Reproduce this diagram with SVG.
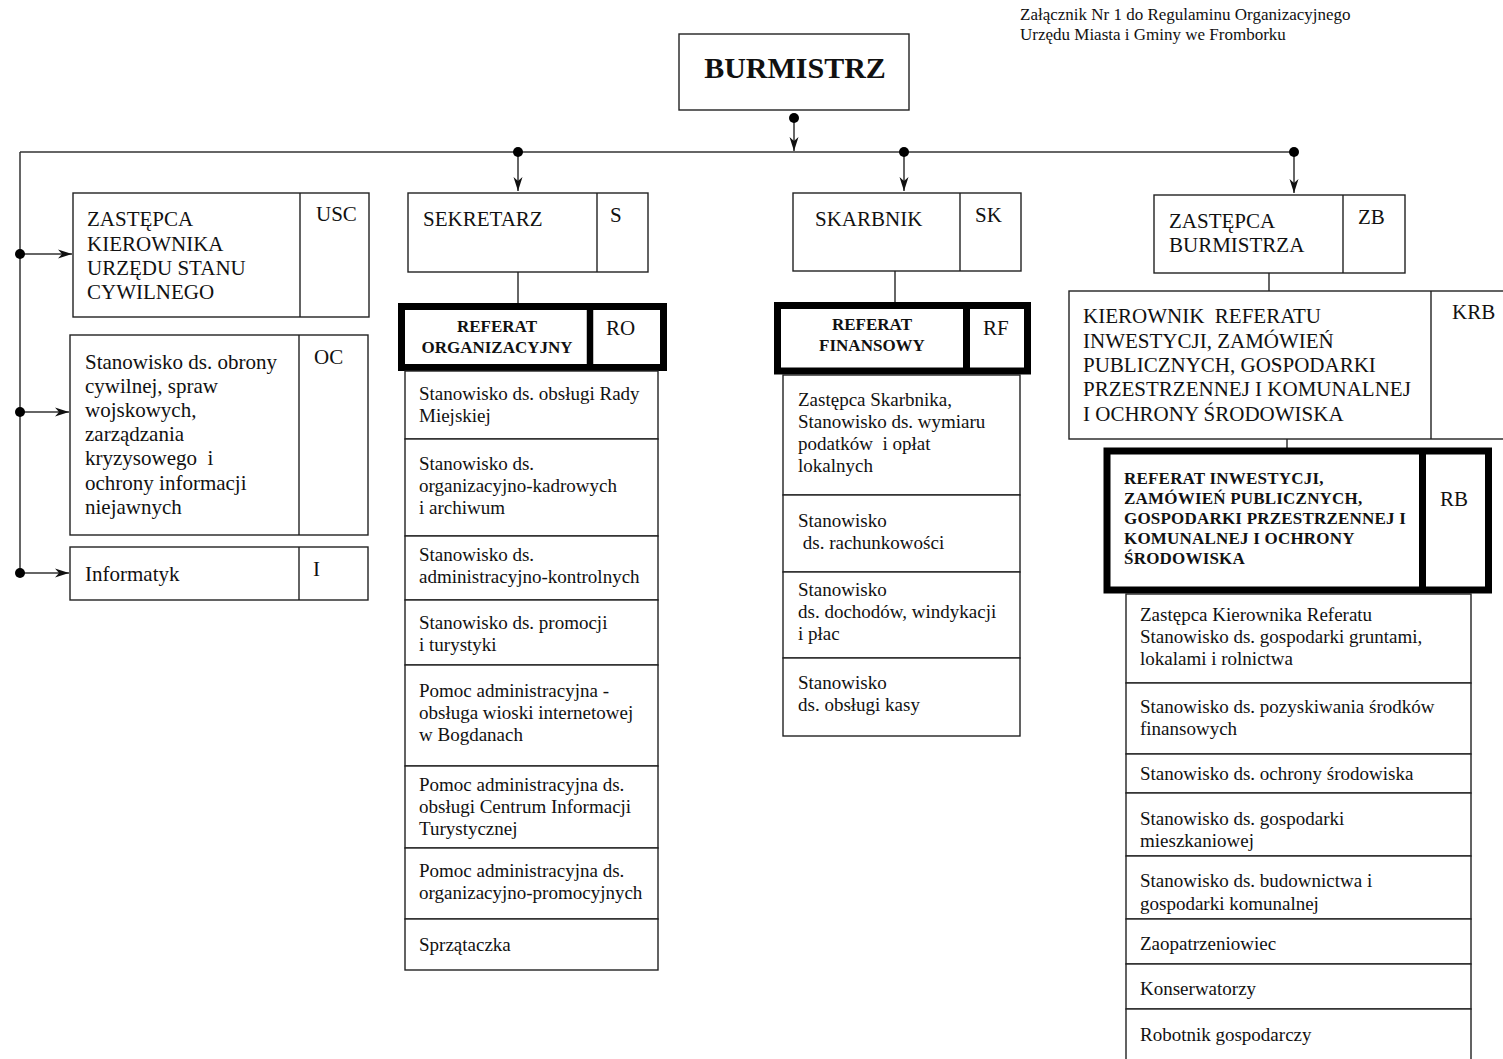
<svg xmlns="http://www.w3.org/2000/svg" width="1503" height="1059" viewBox="0 0 1503 1059">
<style>
.box{fill:#fff;stroke:#222;stroke-width:1.4}
.thick{fill:#fff;stroke:#000;stroke-width:7}
.ln{stroke:#333;stroke-width:1.5;fill:none}
.t{font-family:"Liberation Serif","Times New Roman",serif;fill:#111;white-space:pre}
.s19{font-size:19px}
.s21{font-size:21px}
.s17{font-size:17px}
.bd{font-size:17px;font-weight:bold}
.ttl{font-size:30px;font-weight:bold}
.dot{fill:#000}
</style>
<defs>
<marker id="arr" markerUnits="userSpaceOnUse" viewBox="0 0 14 10" refX="14" refY="5" markerWidth="14" markerHeight="10" orient="auto">
<path d="M0,0.5 L14,5 L0,9.5 L4,5 Z" fill="#111"/>
</marker>
</defs>
<rect width="1503" height="1059" fill="#fff"/>

<g id="header">
<text class="t s17" x="1020" y="20">Załącznik Nr 1 do Regulaminu Organizacyjnego</text>
<text class="t s17" x="1020" y="40">Urzędu Miasta i Gminy we Fromborku</text>
</g>

<g id="connectors">
<line class="ln" x1="20" y1="152" x2="1294" y2="152"/>
<line class="ln" x1="20" y1="152" x2="20" y2="576" stroke="#555"/>
<line class="ln" x1="794" y1="118" x2="794" y2="151" marker-end="url(#arr)"/>
<line class="ln" x1="518" y1="152" x2="518" y2="191" marker-end="url(#arr)"/>
<line class="ln" x1="904" y1="152" x2="904" y2="191" marker-end="url(#arr)"/>
<line class="ln" x1="1294" y1="152" x2="1294" y2="193" marker-end="url(#arr)"/>
<line class="ln" x1="20" y1="254" x2="72" y2="254" marker-end="url(#arr)"/>
<line class="ln" x1="20" y1="412" x2="69" y2="412" marker-end="url(#arr)"/>
<line class="ln" x1="20" y1="573" x2="69" y2="573" marker-end="url(#arr)"/>
<line class="ln" x1="518" y1="272" x2="518" y2="303"/>
<line class="ln" x1="895" y1="271" x2="895" y2="302"/>
<line class="ln" x1="1269" y1="273" x2="1269" y2="291"/>
<line class="ln" x1="1287" y1="439" x2="1287" y2="448"/>
<circle class="dot" cx="794" cy="118" r="5"/>
<circle class="dot" cx="518" cy="152" r="5"/>
<circle class="dot" cx="904" cy="152" r="5"/>
<circle class="dot" cx="1294" cy="152" r="5"/>
<circle class="dot" cx="20" cy="254" r="5"/>
<circle class="dot" cx="20" cy="412" r="5"/>
<circle class="dot" cx="20" cy="573" r="5"/>
</g>

<g id="burmistrz">
<rect class="box" x="679" y="34" width="230" height="76"/>
<text class="t ttl" x="795" y="78" text-anchor="middle">BURMISTRZ</text>
</g>

<g id="usc">
<rect class="box" x="73" y="193" width="296" height="124"/>
<line class="box" x1="300" y1="193" x2="300" y2="317"/>
<text class="t s21" x="87" y="226">ZASTĘPCA</text>
<text class="t s21" x="87" y="251">KIEROWNIKA</text>
<text class="t s21" x="87" y="275">URZĘDU STANU</text>
<text class="t s21" x="87" y="299">CYWILNEGO</text>
<text class="t s21" x="316" y="221">USC</text>
</g>

<g id="oc">
<rect class="box" x="70" y="335" width="298" height="200"/>
<line class="box" x1="299" y1="335" x2="299" y2="535"/>
<text class="t s21" x="85" y="369">Stanowisko ds. obrony</text>
<text class="t s21" x="85" y="393">cywilnej, spraw</text>
<text class="t s21" x="85" y="417">wojskowych,</text>
<text class="t s21" x="85" y="441">zarządzania</text>
<text class="t s21" x="85" y="465">kryzysowego  i</text>
<text class="t s21" x="85" y="490">ochrony informacji</text>
<text class="t s21" x="85" y="514">niejawnych</text>
<text class="t s21" x="314" y="364">OC</text>
</g>

<g id="informatyk">
<rect class="box" x="70" y="547" width="298" height="53"/>
<line class="box" x1="299" y1="547" x2="299" y2="600"/>
<text class="t s21" x="85" y="581">Informatyk</text>
<text class="t s21" x="313" y="576">I</text>
</g>

<g id="sekretarz">
<rect class="box" x="408" y="193" width="240" height="79"/>
<line class="box" x1="597" y1="193" x2="597" y2="272"/>
<text class="t s21" x="423" y="226">SEKRETARZ</text>
<text class="t s21" x="610" y="222">S</text>
</g>

<g id="ro">
<rect class="thick" x="401.5" y="306.5" width="262" height="61"/>
<line x1="590" y1="306" x2="590" y2="368" stroke="#000" stroke-width="6.5"/>
<text class="t bd" x="497" y="332" text-anchor="middle">REFERAT</text>
<text class="t bd" x="497" y="353" text-anchor="middle">ORGANIZACYJNY</text>
<text class="t s21" x="606" y="335">RO</text>
</g>

<g id="ro-list">
<rect class="box" x="405" y="371" width="253" height="68"/>
<text class="t s19" x="419" y="400">Stanowisko ds. obsługi Rady</text>
<text class="t s19" x="419" y="422">Miejskiej</text>
<rect class="box" x="405" y="439" width="253" height="97"/>
<text class="t s19" x="419" y="470">Stanowisko ds.</text>
<text class="t s19" x="419" y="492">organizacyjno-kadrowych</text>
<text class="t s19" x="419" y="514">i archiwum</text>
<rect class="box" x="405" y="536" width="253" height="64"/>
<text class="t s19" x="419" y="561">Stanowisko ds.</text>
<text class="t s19" x="419" y="583">administracyjno-kontrolnych</text>
<rect class="box" x="405" y="600" width="253" height="65"/>
<text class="t s19" x="419" y="629">Stanowisko ds. promocji</text>
<text class="t s19" x="419" y="651">i turystyki</text>
<rect class="box" x="405" y="665" width="253" height="101"/>
<text class="t s19" x="419" y="697">Pomoc administracyjna -</text>
<text class="t s19" x="419" y="719">obsługa wioski internetowej</text>
<text class="t s19" x="419" y="741">w Bogdanach</text>
<rect class="box" x="405" y="766" width="253" height="82"/>
<text class="t s19" x="419" y="791">Pomoc administracyjna ds.</text>
<text class="t s19" x="419" y="813">obsługi Centrum Informacji</text>
<text class="t s19" x="419" y="835">Turystycznej</text>
<rect class="box" x="405" y="848" width="253" height="71"/>
<text class="t s19" x="419" y="877">Pomoc administracyjna ds.</text>
<text class="t s19" x="419" y="899">organizacyjno-promocyjnych</text>
<rect class="box" x="405" y="919" width="253" height="51"/>
<text class="t s19" x="419" y="951">Sprzątaczka</text>
</g>

<g id="skarbnik">
<rect class="box" x="793" y="193" width="228" height="78"/>
<line class="box" x1="960" y1="193" x2="960" y2="271"/>
<text class="t s21" x="815" y="226">SKARBNIK</text>
<text class="t s21" x="975" y="222">SK</text>
</g>

<g id="rf">
<rect class="thick" x="777.5" y="305.5" width="250" height="65.5"/>
<line x1="966.5" y1="305" x2="966.5" y2="371" stroke="#000" stroke-width="7"/>
<text class="t bd" x="872" y="330" text-anchor="middle">REFERAT</text>
<text class="t bd" x="872" y="351" text-anchor="middle">FINANSOWY</text>
<text class="t s21" x="983" y="335">RF</text>
</g>

<g id="rf-list">
<rect class="box" x="783" y="375" width="237" height="120"/>
<text class="t s19" x="798" y="406">Zastępca Skarbnika,</text>
<text class="t s19" x="798" y="428">Stanowisko ds. wymiaru</text>
<text class="t s19" x="798" y="450">podatków  i opłat</text>
<text class="t s19" x="798" y="472">lokalnych</text>
<rect class="box" x="783" y="495" width="237" height="77"/>
<text class="t s19" x="798" y="527">Stanowisko</text>
<text class="t s19" x="798" y="549"> ds. rachunkowości</text>
<rect class="box" x="783" y="572" width="237" height="86"/>
<text class="t s19" x="798" y="596">Stanowisko</text>
<text class="t s19" x="798" y="618">ds. dochodów, windykacji</text>
<text class="t s19" x="798" y="640">i płac</text>
<rect class="box" x="783" y="658" width="237" height="78"/>
<text class="t s19" x="798" y="689">Stanowisko</text>
<text class="t s19" x="798" y="711">ds. obsługi kasy</text>
</g>

<g id="zb">
<rect class="box" x="1154" y="195" width="251" height="78"/>
<line class="box" x1="1343" y1="195" x2="1343" y2="273"/>
<text class="t s21" x="1169" y="228">ZASTĘPCA</text>
<text class="t s21" x="1169" y="252">BURMISTRZA</text>
<text class="t s21" x="1358" y="224">ZB</text>
</g>

<g id="krb">
<rect class="box" x="1069" y="291" width="445" height="148"/>
<line class="box" x1="1431" y1="291" x2="1431" y2="439"/>
<text class="t s21" x="1083" y="323">KIEROWNIK  REFERATU</text>
<text class="t s21" x="1083" y="348">INWESTYCJI, ZAMÓWIEŃ</text>
<text class="t s21" x="1083" y="372">PUBLICZNYCH, GOSPODARKI</text>
<text class="t s21" x="1083" y="396">PRZESTRZENNEJ I KOMUNALNEJ</text>
<text class="t s21" x="1083" y="421">I OCHRONY ŚRODOWISKA</text>
<text class="t s21" x="1452" y="319">KRB</text>
</g>

<g id="rb">
<rect class="thick" x="1107" y="451" width="381.5" height="139" stroke-width="8"/>
<line x1="1422.5" y1="451" x2="1422.5" y2="590" stroke="#000" stroke-width="7"/>
<text class="t bd" x="1124" y="484" letter-spacing="0.2">REFERAT INWESTYCJI,</text>
<text class="t bd" x="1124" y="504" letter-spacing="0.2">ZAMÓWIEŃ PUBLICZNYCH,</text>
<text class="t bd" x="1124" y="524" letter-spacing="0.2">GOSPODARKI PRZESTRZENNEJ I</text>
<text class="t bd" x="1124" y="544" letter-spacing="0.2">KOMUNALNEJ I OCHRONY</text>
<text class="t bd" x="1124" y="564" letter-spacing="0.2">ŚRODOWISKA</text>
<text class="t s21" x="1440" y="506">RB</text>
</g>

<g id="rb-list">
<rect class="box" x="1126" y="594" width="345" height="89"/>
<text class="t s19" x="1140" y="621">Zastępca Kierownika Referatu</text>
<text class="t s19" x="1140" y="643">Stanowisko ds. gospodarki gruntami,</text>
<text class="t s19" x="1140" y="665">lokalami i rolnictwa</text>
<rect class="box" x="1126" y="683" width="345" height="71"/>
<text class="t s19" x="1140" y="713">Stanowisko ds. pozyskiwania środków</text>
<text class="t s19" x="1140" y="735">finansowych</text>
<rect class="box" x="1126" y="754" width="345" height="39"/>
<text class="t s19" x="1140" y="780">Stanowisko ds. ochrony środowiska</text>
<rect class="box" x="1126" y="793" width="345" height="63"/>
<text class="t s19" x="1140" y="825">Stanowisko ds. gospodarki</text>
<text class="t s19" x="1140" y="847">mieszkaniowej</text>
<rect class="box" x="1126" y="856" width="345" height="63"/>
<text class="t s19" x="1140" y="887">Stanowisko ds. budownictwa i</text>
<text class="t s19" x="1140" y="910">gospodarki komunalnej</text>
<rect class="box" x="1126" y="919" width="345" height="45"/>
<text class="t s19" x="1140" y="950">Zaopatrzeniowiec</text>
<rect class="box" x="1126" y="964" width="345" height="45"/>
<text class="t s19" x="1140" y="995">Konserwatorzy</text>
<rect class="box" x="1126" y="1009" width="345" height="60"/>
<text class="t s19" x="1140" y="1041">Robotnik gospodarczy</text>
</g>
</svg>
